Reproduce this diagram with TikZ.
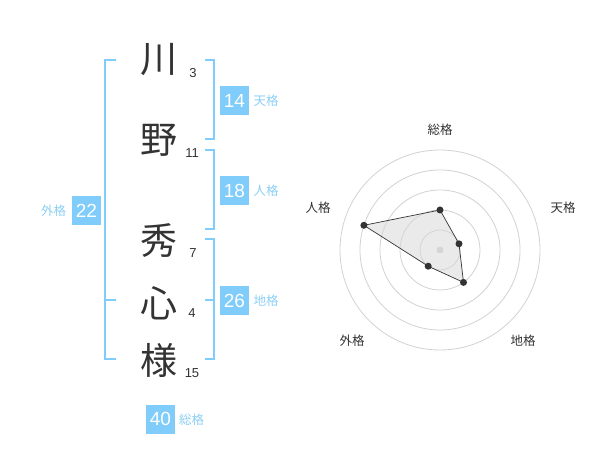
\documentclass[tikz,border=0pt]{standalone}
\usepackage{fontspec}
\setmainfont{Liberation Sans}
\newfontfamily\jpfont{Noto Sans CJK JP}
\definecolor{bblue}{RGB}{128,204,250}
\definecolor{lblue}{RGB}{140,208,245}
\definecolor{dgray}{RGB}{51,51,51}
\definecolor{ringgray}{RGB}{210,210,210}
\begin{document}
\begin{tikzpicture}[x=1pt,y=-1pt,
  kanji/.style={inner sep=0pt,font=\jpfont\fontsize{37}{37}\selectfont,text=dgray},
  strokenum/.style={inner sep=0pt,font=\fontsize{13}{13}\selectfont,text=dgray},
  numbox/.style={fill=bblue,minimum width=29pt,minimum height=29pt,inner sep=0pt,text=white,font=\fontsize{19}{19}\selectfont},
  kaku/.style={inner sep=0pt,font=\jpfont\fontsize{12.5}{12.5}\selectfont,text=lblue},
  brk/.style={draw=bblue,line width=2pt},
  ring/.style={draw=ringgray,line width=0.8pt},
  axislbl/.style={inner sep=0pt,font=\jpfont\fontsize{12.5}{12.5}\selectfont,text=dgray},
  dot/.style={circle,fill=dgray,inner sep=0pt,minimum size=7pt}]
\path[fill=white] (0,0) rectangle (600,470);
% kanji
\node[kanji] (k1) at (159,60) {川};
\node[kanji] (k2) at (159,140) {野};
\node[kanji] (k3) at (159,241) {秀};
\node[kanji] (k4) at (159,303) {心};
\node[kanji] (k5) at (159,360) {様};
\node[strokenum] (n1) at (193,73) {3};
\node[strokenum] (n2) at (192,153) {11};
\node[strokenum] (n3) at (193,253) {7};
\node[strokenum] (n4) at (192,313) {4};
\node[strokenum] (n5) at (192,373) {15};
% brackets
\coordinate (la) at (116,60); \coordinate (lb) at (116,359); \coordinate (lm) at (116,300);
\draw[brk] (la) -- (105,60) -- (105,359) -- (lb);
\draw[brk] (105,300) -- (lm);
\coordinate (ta) at (205,60); \coordinate (tb) at (205,139);
\draw[brk] (ta) -- (214,60) -- (214,139) -- (tb);
\coordinate (ja) at (205,150); \coordinate (jb) at (205,229);
\draw[brk] (ja) -- (214,150) -- (214,229) -- (jb);
\coordinate (ca) at (205,239); \coordinate (cb) at (205,359); \coordinate (cm) at (205,300);
\draw[brk] (ca) -- (214,239) -- (214,359) -- (cb);
\draw[brk] (cm) -- (214,300);
% boxes
\node[numbox] (b14) at (234.5,100.5) {14};
\node[kaku] (t14) at (266,100.5) {天格};
\node[numbox] (b18) at (234.5,190.5) {18};
\node[kaku] (t18) at (266,190.5) {人格};
\node[numbox] (b26) at (234.5,300.5) {26};
\node[kaku] (t26) at (266,300.5) {地格};
\node[numbox] (b22) at (86.5,210.5) {22};
\node[kaku] (t22) at (53.5,210.5) {外格};
\node[numbox] (b40) at (160.5,419) {40};
\node[kaku] (t40) at (191.5,419.5) {総格};
% radar
\coordinate (c) at (440,250);
\foreach \r in {20,40,60,80,100} \draw[ring] (c) circle[radius=\r];
\node[circle,fill=ringgray,inner sep=0pt,minimum size=7pt] (cdot) at (c) {};
\path (c) ++(0,-40) coordinate (ps)
      (c) ++(19.0,-6.2) coordinate (pt)
      (c) ++(23.5,32.4) coordinate (pc)
      (c) ++(-11.8,16.2) coordinate (pg)
      (c) ++(-76.1,-24.7) coordinate (pj);
\fill[black!15,opacity=0.55] (ps) -- (pt) -- (pc) -- (pg) -- (pj) -- cycle;
\draw[dgray,line width=0.7pt] (ps) -- (pt) -- (pc) -- (pg) -- (pj) -- cycle;
\foreach \p in {ps,pt,pc,pg,pj} \node[dot] at (\p) {};
\node[axislbl] (a1) at (440,130) {総格};
\node[axislbl] (a2) at (563,208) {天格};
\node[axislbl] (a3) at (523,341) {地格};
\node[axislbl] (a4) at (352,341) {外格};
\node[axislbl] (a5) at (318,208) {人格};
\end{tikzpicture}
\end{document}
